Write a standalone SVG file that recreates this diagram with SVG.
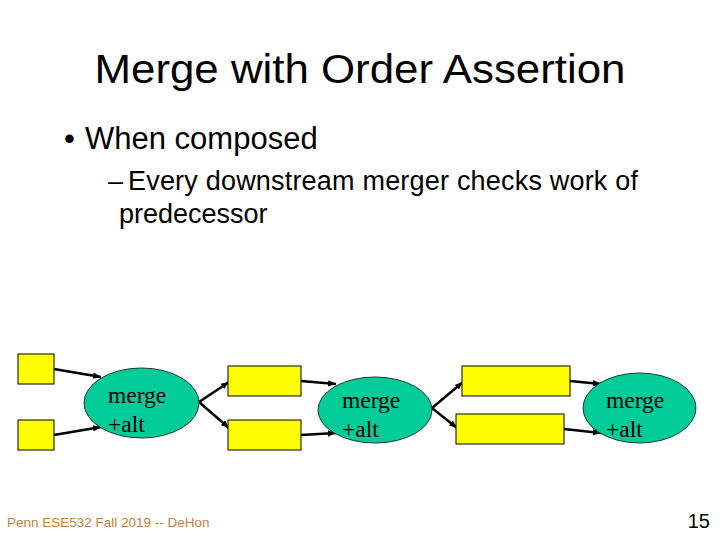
<svg xmlns="http://www.w3.org/2000/svg" width="720" height="540" viewBox="0 0 720 540">
<defs>
<marker id="arr" viewBox="0 0 10 10" refX="10" refY="5" markerWidth="8" markerHeight="8" markerUnits="userSpaceOnUse" orient="auto">
<path d="M0,1 L10,5 L0,9 z" fill="#000"/>
</marker>
<style>
.box{fill:#ffff00;stroke:#000;stroke-width:1}
.ell{fill:#00cc99;stroke:#1a3a30;stroke-width:1}
.lbl{font-family:"Liberation Sans",Arial,sans-serif;font-size:23.5px;fill:#000}
.lbl{font-family:"Liberation Serif","Times New Roman",serif}
.con{stroke:#000;stroke-width:2.5;fill:none;marker-end:url(#arr)}
.sans{font-family:"Liberation Sans",Arial,sans-serif;fill:#000}
</style>
</defs>
<rect width="720" height="540" fill="#fff"/>
<text class="sans" x="360" y="83" font-size="40" text-anchor="middle" textLength="531" lengthAdjust="spacingAndGlyphs">Merge with Order Assertion</text>
<text class="sans" x="64" y="149" font-size="31">•</text>
<text class="sans" x="85" y="149" font-size="31">When composed</text>
<text class="sans" x="108" y="190" font-size="27">–</text>
<text class="sans" x="128" y="190" font-size="27" textLength="510" lengthAdjust="spacing">Every downstream merger checks work of</text>
<text class="sans" x="119" y="223" font-size="27">predecessor</text>
<g id="connectors">
<line class="con" x1="54" y1="369" x2="101" y2="377"/>
<line class="con" x1="54" y1="435" x2="101" y2="427"/>
<line class="con" x1="199" y1="402" x2="229" y2="382"/>
<line class="con" x1="199" y1="402" x2="229" y2="428"/>
<line class="con" x1="301" y1="381" x2="336" y2="384"/>
<line class="con" x1="301" y1="435" x2="336" y2="433"/>
<line class="con" x1="432" y1="408" x2="463" y2="382"/>
<line class="con" x1="432" y1="408" x2="457" y2="428"/>
<line class="con" x1="570" y1="381" x2="601" y2="384"/>
<line class="con" x1="564" y1="429" x2="601" y2="433"/>
</g>
<g id="box1"><rect class="box" x="18" y="354" width="36" height="30"/></g>
<g id="box2"><rect class="box" x="18" y="420" width="36" height="30"/></g>
<g id="merge1"><ellipse class="ell" cx="141.5" cy="403" rx="57.5" ry="35"/><text class="lbl" x="108" y="403">merge</text><text class="lbl" x="108" y="432">+alt</text></g>
<g id="box3"><rect class="box" x="228" y="366" width="73" height="30"/></g>
<g id="box4"><rect class="box" x="228" y="420" width="73" height="30"/></g>
<g id="merge2"><ellipse class="ell" cx="375" cy="410" rx="57" ry="33"/><text class="lbl" x="342" y="408">merge</text><text class="lbl" x="342" y="437">+alt</text></g>
<g id="box5"><rect class="box" x="462" y="366" width="108" height="30"/></g>
<g id="box6"><rect class="box" x="456" y="414" width="108" height="30"/></g>
<g id="merge3"><ellipse class="ell" cx="639.5" cy="408" rx="56.5" ry="35"/><text class="lbl" x="606" y="408">merge</text><text class="lbl" x="606" y="437">+alt</text></g>
<text x="7" y="527" font-family="'Liberation Sans',Arial,sans-serif" font-size="13.5" fill="#c8803c">Penn ESE532 Fall 2019 -- DeHon</text>
<text x="710" y="528" font-family="'Liberation Sans',Arial,sans-serif" font-size="20" text-anchor="end" fill="#000">15</text>
</svg>
